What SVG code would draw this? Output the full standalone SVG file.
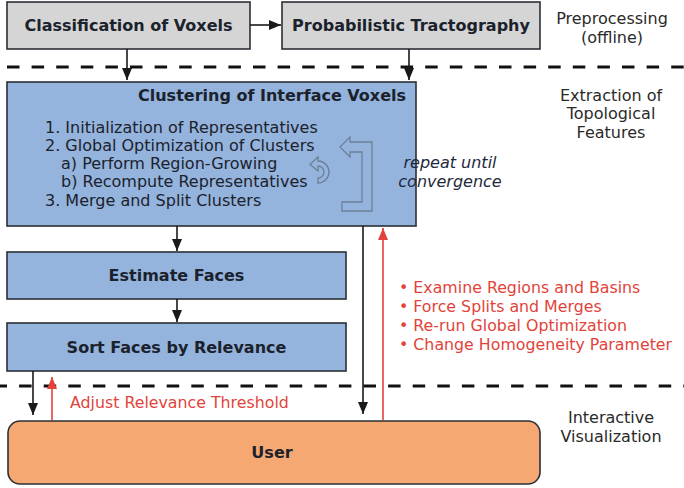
<svg xmlns="http://www.w3.org/2000/svg" width="684" height="488" viewBox="0 0 684 488">
  <style>
    .box { stroke: #2b3036; stroke-width: 1.6; }
    .gray { fill: #d5d5d5; }
    .blue { fill: #94b3dd; }
    .user { fill: #f5a872; }
    .title { font-family: "DejaVu Sans", sans-serif; font-size: 16px; font-weight: bold; fill: #1b222c; text-anchor: middle; }
    .item { font-family: "DejaVu Sans", sans-serif; font-size: 16px; fill: #1b222c; }
    .note { font-family: "DejaVu Sans", sans-serif; font-size: 16px; font-style: italic; fill: #1e2a3c; text-anchor: middle; }
    .stage { font-family: "DejaVu Sans", sans-serif; font-size: 16px; fill: #2a2a2a; text-anchor: middle; }
    .red { font-family: "DejaVu Sans", sans-serif; font-size: 15.8px; fill: #e2433a; }
    .sep { stroke: #111; stroke-width: 3; stroke-dasharray: 12.5 12.1; }
    .flow { stroke: #1a1a1a; stroke-width: 1.6; fill: none; }
    .back { stroke: #e2433a; stroke-width: 1.6; fill: none; }
    .glyph { fill: none; stroke: #6c8098; stroke-width: 1.3; stroke-linejoin: miter; }
  </style>
  <defs>
    <marker id="arrowBlack" viewBox="0 0 12 10" refX="12" refY="5" markerWidth="12" markerHeight="10" markerUnits="userSpaceOnUse" orient="auto">
      <path d="M0,0 L12,5 L0,10 Z" fill="#1a1a1a"/>
    </marker>
    <marker id="arrowRed" viewBox="0 0 12 10" refX="12" refY="5" markerWidth="12" markerHeight="10" markerUnits="userSpaceOnUse" orient="auto">
      <path d="M0,0 L12,5 L0,10 Z" fill="#e2433a"/>
    </marker>
  </defs>

  <rect width="684" height="488" fill="#ffffff"/>

  <!-- stage separators -->
  <line class="sep" x1="7" y1="67" x2="684" y2="67"/>
  <line class="sep" x1="0" y1="386" x2="684" y2="386" stroke-dashoffset="5.5"/>

  <!-- stage labels -->
  <g id="stage-preprocessing">
    <text class="stage" x="612" y="24">Preprocessing</text>
    <text class="stage" x="612" y="43">(offline)</text>
  </g>
  <g id="stage-extraction">
    <text class="stage" x="611" y="101">Extraction of</text>
    <text class="stage" x="611" y="119">Topological</text>
    <text class="stage" x="611" y="138">Features</text>
  </g>
  <g id="stage-interactive">
    <text class="stage" x="611" y="423">Interactive</text>
    <text class="stage" x="611" y="442">Visualization</text>
  </g>

  <!-- nodes -->
  <g id="classification">
    <rect class="box gray" x="7" y="2" width="243" height="47"/>
    <text class="title" x="128.5" y="31">Classification of Voxels</text>
  </g>
  <g id="tractography">
    <rect class="box gray" x="282" y="2" width="258" height="47"/>
    <text class="title" x="411" y="31">Probabilistic Tractography</text>
  </g>
  <g id="clustering">
    <rect class="box blue" x="7" y="82" width="409" height="144"/>
    <text class="title" x="272" y="101">Clustering of Interface Voxels</text>
    <text class="item" x="45" y="133">1. Initialization of Representatives</text>
    <text class="item" x="45" y="151">2. Global Optimization of Clusters</text>
    <text class="item" x="61" y="169">a) Perform Region-Growing</text>
    <text class="item" x="61" y="187">b) Recompute Representatives</text>
    <text class="item" x="45" y="206">3. Merge and Split Clusters</text>
    <!-- small loop glyph beside the inner steps -->
    <path class="glyph" d="M318,183 A11,11 0 0 0 318,161 L318,157 L310,164.5 L318,171 L318,166 A6,6 0 0 1 318,178 Z"/>
    <!-- bracket arrow for the repeated optimisation -->
    <path class="glyph" d="M340,147 L350,137 L350,142 L372,142 L372,211 L342,211 L342,202 L362,202 L362,152 L350,152 L350,157 Z"/>
    <text class="note" x="450" y="168">repeat until</text>
    <text class="note" x="450" y="187">convergence</text>
  </g>
  <g id="estimate-faces">
    <rect class="box blue" x="7" y="252" width="339" height="47"/>
    <text class="title" x="176.5" y="281">Estimate Faces</text>
  </g>
  <g id="sort-faces">
    <rect class="box blue" x="7" y="323" width="339" height="48"/>
    <text class="title" x="176.5" y="353">Sort Faces by Relevance</text>
  </g>
  <g id="user">
    <rect class="box user" x="8" y="421" width="532" height="63" rx="12" ry="12"/>
    <text class="title" x="272" y="458">User</text>
  </g>

  <!-- connectors -->
  <g id="connectors">
    <line class="flow" x1="250" y1="25" x2="281" y2="25" marker-end="url(#arrowBlack)"/>
    <line class="flow" x1="127" y1="49" x2="127" y2="80" marker-end="url(#arrowBlack)"/>
    <line class="flow" x1="409" y1="49" x2="409" y2="80" marker-end="url(#arrowBlack)"/>
    <line class="flow" x1="177" y1="226" x2="177" y2="251" marker-end="url(#arrowBlack)"/>
    <line class="flow" x1="177" y1="299" x2="177" y2="322" marker-end="url(#arrowBlack)"/>
    <line class="flow" x1="33" y1="371" x2="33" y2="415" marker-end="url(#arrowBlack)"/>
    <line class="flow" x1="363" y1="226" x2="363" y2="414" marker-end="url(#arrowBlack)"/>
    <line class="back" x1="52" y1="420" x2="52" y2="377" marker-end="url(#arrowRed)"/>
    <line class="back" x1="383" y1="420" x2="383" y2="228" marker-end="url(#arrowRed)"/>
    <text class="red" x="70" y="408">Adjust Relevance Threshold</text>
    <text class="red" x="399" y="293">• Examine Regions and Basins</text>
    <text class="red" x="399" y="312">• Force Splits and Merges</text>
    <text class="red" x="399" y="331">• Re-run Global Optimization</text>
    <text class="red" x="399" y="350">• Change Homogeneity Parameter</text>
  </g>
</svg>
